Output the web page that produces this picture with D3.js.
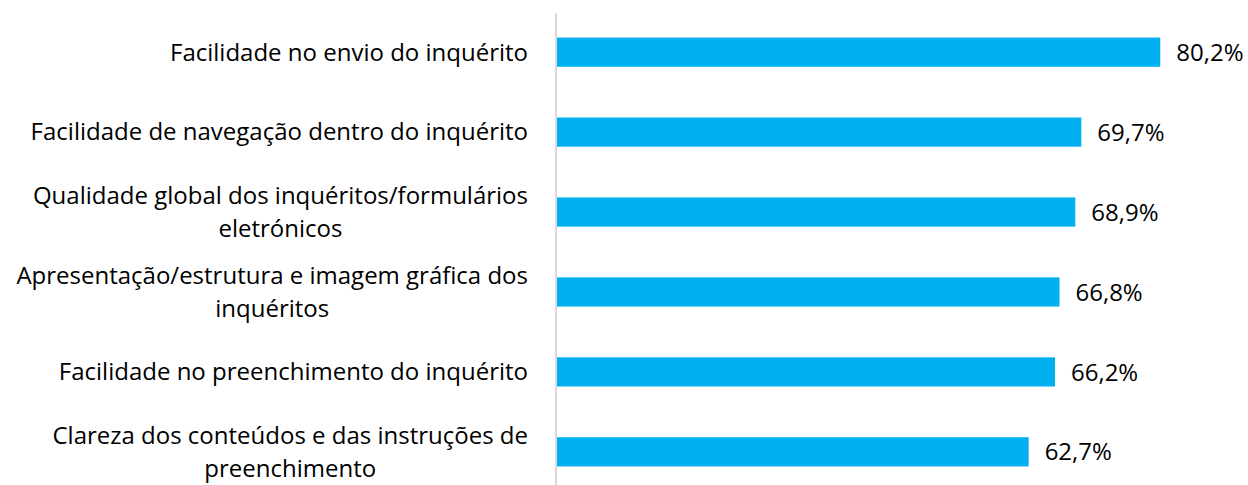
<!DOCTYPE html>
<html>
<head>
<meta charset="utf-8">
<script src="https://cdn.jsdelivr.net/npm/d3@7"></script>
<style>
  body { margin: 0; background: #fff; }
  text { font-family: "Open Sans", sans-serif; fill: #000; }
</style>
</head>
<body>
<div id="chart"></div>
<script>
// categories (label lines as wrapped in the original) and values in %
const categories = [
    ["Facilidade no envio do inquérito"],
    ["Facilidade de navegação dentro do inquérito"],
    ["Qualidade global dos inquéritos/formulários", "eletrónicos"],
    ["Apresentação/estrutura e imagem gráfica dos", "inquéritos"],
    ["Facilidade no preenchimento do inquérito"],
    ["Clareza dos conteúdos e das instruções de", "preenchimento"]
];
const values = [80.2, 69.7, 68.9, 66.8, 66.2, 62.7];
const valueLabels = ["80,2%", "69,7%", "68,9%", "66,8%", "66,2%", "62,7%"];

const config = {
    width: 1248,
    height: 485,
    margin: {top: 12, right: 14, bottom: -7, left: 557},
    fontSize: 24,
    lineGap: 33
};

const svg = d3.select("#chart")
    .append("svg")
        .attr("width", config.width)
        .attr("height", config.height);

const keys = categories.map((d, i) => i);

const xScale = d3.scaleLinear()
    .domain([0, 90])
    .range([config.margin.left, config.width - config.margin.right]);

const yScale = d3.scaleBand()
    .domain(keys)
    .range([config.margin.top, config.height - config.margin.bottom])
    .paddingInner(0.635)
    .paddingOuter(0.32);

// bars
svg.selectAll(".bar")
    .data(values)
  .join("rect")
    .attr("class", "bar")
    .attr("x", xScale(0))
    .attr("y", (d, i) => yScale(i))
    .attr("width", d => xScale(d) - xScale(0))
    .attr("height", yScale.bandwidth())
    .attr("fill", "#00B0F0");

// vertical category axis line
svg.append("line")
    .attr("x1", xScale(0) - 1)
    .attr("x2", xScale(0) - 1)
    .attr("y1", config.margin.top + 1)
    .attr("y2", config.height)
    .attr("stroke", "#d9d9d9")
    .attr("stroke-width", 2);

// value labels
svg.selectAll(".value-label")
    .data(values)
  .join("text")
    .attr("class", "value-label")
    .attr("x", d => xScale(d) + 16)
    .attr("y", (d, i) => yScale(i) + yScale.bandwidth() / 2)
    .attr("dy", "0.36em")
    .style("font-size", config.fontSize + "px")
    .text((d, i) => valueLabels[i]);

// category labels, multi-line ones centred within their block
const labelRight = 528;
const labelG = svg.selectAll(".cat-label")
    .data(categories)
  .join("text")
    .attr("class", "cat-label")
    .style("font-size", config.fontSize + "px")
    .attr("text-anchor", "middle");

labelG.each(function(lines, i) {
    const g = d3.select(this);
    const cy = yScale(i) + yScale.bandwidth() / 2;
    const tspans = g.selectAll("tspan")
        .data(lines)
      .join("tspan")
        .text(d => d)
        .attr("dy", "0.35em");
    let maxW = 0;
    tspans.each(function() { maxW = Math.max(maxW, this.getComputedTextLength()); });
    const cx = labelRight - maxW / 2;
    tspans
        .attr("x", cx)
        .attr("y", (d, j) => cy + (j - (lines.length - 1) / 2) * config.lineGap);
});
</script>
</body>
</html>
